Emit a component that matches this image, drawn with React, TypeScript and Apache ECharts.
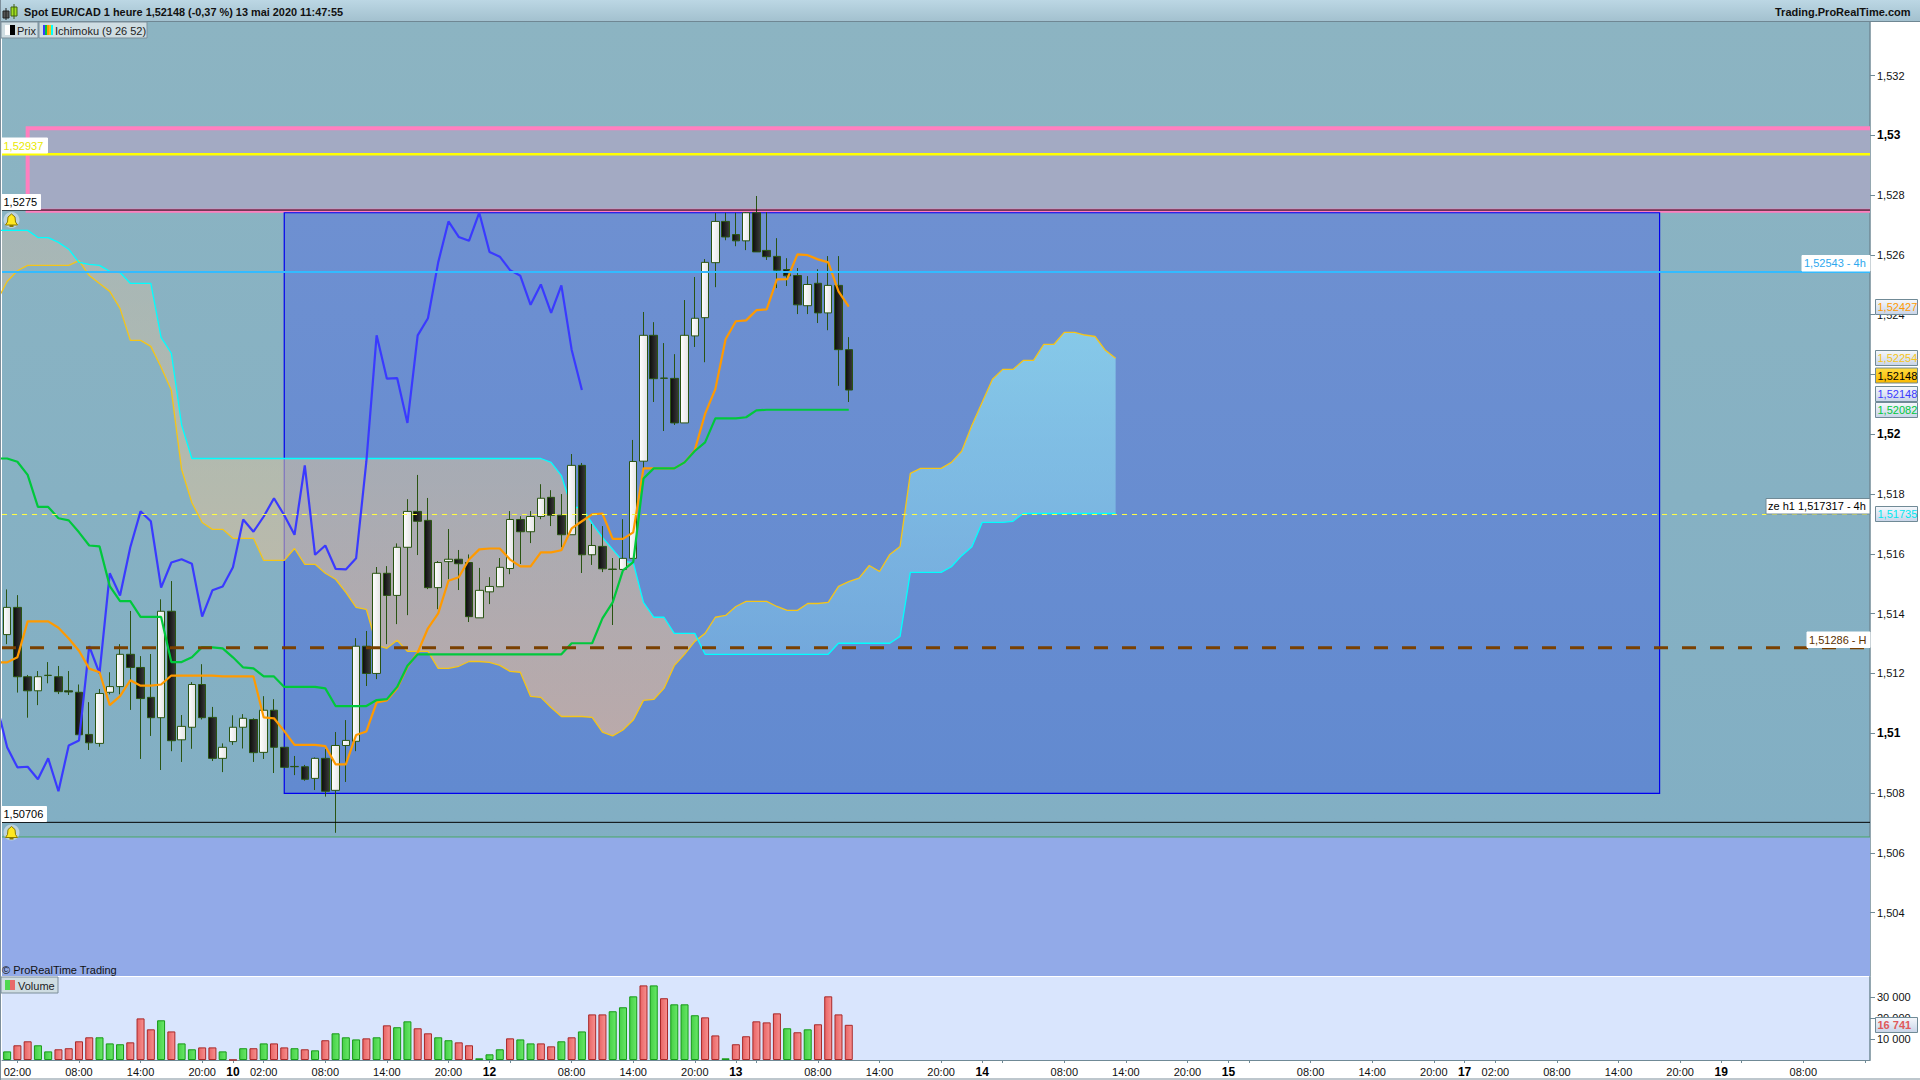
import React, { useEffect, useRef } from "react";
import * as echarts from "echarts";

// prices are stored in 1/100000 units; slot 0 is the hour just left of the visible window
const opens = [151330,151421,151189,151142,151193,151189,151142,151137,150996,150966,151137,151156,151264,151220,151120,151052,151408,150978,151020,151163,151053,150916,150972,151020,151046,150936,151077,150953,150889,150888,150849,150916,150809,150959,150973,151291,151200,151535,151461,151622,151742,151712,151487,151574,151582,151571,151386,151473,151490,151551,151715,151674,151725,151789,151729,151664,151896,151597,151625,151549,151548,151585,151910,152331,152187,152187,152038,152329,152390,152574,152712,152668,152647,152741,152615,152595,152551,152531,152430,152505,152406,152498,152283];
const closes = [151421,151189,151142,151189,151194,151139,151138,150995,150968,151133,151156,151264,151220,151116,151052,151408,150975,151023,151163,151052,150916,150953,151020,151050,150935,151077,150953,150886,150888,150846,150916,150806,150959,150976,151291,151200,151535,151461,151622,151742,151709,151487,151571,151582,151567,151390,151478,151491,151555,151715,151674,151725,151786,151729,151664,151896,151597,151628,151550,151548,151585,151909,152331,152186,152188,152038,152331,152388,152575,152712,152660,152647,152741,152610,152594,152549,152530,152433,152501,152406,152498,152283,152148];
const lows = [151298,151136,151052,151094,151167,151131,151128,150995,150944,150955,151130,151130,151078,150914,150991,150877,150940,150904,150948,151046,150907,150870,150961,150949,150904,150914,150867,150883,150860,150841,150810,150788,150667,150837,150940,151158,151181,151298,151365,151395,151596,151482,151415,151515,151479,151372,151386,151432,151490,151532,151566,151636,151716,151693,151622,151664,151536,151563,151539,151362,151548,151585,151887,152108,152011,152031,152038,152292,152241,152492,152649,152629,152616,152610,152583,152489,152496,152402,152402,152372,152348,152162,152108];
const highs = [151481,151462,151195,151208,151238,151225,151208,151163,151104,151148,151204,151298,151409,151258,151265,151448,151509,151061,151171,151231,151088,150966,151060,151064,151050,151124,151114,150953,150924,150894,150919,150947,151004,151044,151318,151342,151556,151559,151635,151783,151864,151787,151576,151683,151613,151598,151553,151522,151586,151743,151726,151743,151833,151813,151800,151934,151904,151700,151693,151586,151716,151981,152409,152375,152305,152268,152449,152526,152586,152740,152741,152741,152743,152797,152743,152656,152589,152556,152529,152552,152596,152596,152325];

const tenkan = [151237,151237,151254,151374,151374,151374,151353,151317,151276,151216,151204,151094,151124,151177,151159,151159,151163,151193,151193,151193,151193,151193,151190,151190,151190,151190,151053,151050,151007,150961,150961,150961,150957,150896,150896,150994,151006,151103,151110,151150,151222,151270,151351,151401,151510,151522,151581,151615,151618,151618,151581,151558,151558,151605,151605,151612,151685,151709,151732,151735,151650,151650,151672,151886,151886,151886,151886,151906,151947,152068,152151,152318,152378,152381,152415,152418,152518,152519,152602,152599,152585,152575,152478,152427];
const kijun = [151919,151919,151908,151864,151757,151757,151719,151712,151672,151628,151625,151492,151442,151442,151389,151389,151389,151238,151238,151254,151288,151287,151284,151254,151220,151217,151190,151190,151155,151155,151155,151155,151150,151091,151091,151091,151091,151111,151114,151155,151226,151264,151264,151264,151264,151264,151264,151264,151264,151264,151264,151264,151264,151264,151264,151264,151301,151301,151301,151384,151438,151545,151572,151852,151886,151886,151886,151906,151944,151973,152053,152053,152053,152057,152080,152082,152082,152082,152082,152082,152082,152082,152082,152082];
const chikou = [151093,150953,150886,150888,150846,150916,150806,150959,150976,151291,151200,151535,151461,151622,151742,151709,151487,151571,151582,151567,151390,151478,151491,151555,151715,151674,151725,151786,151729,151664,151896,151597,151628,151550,151548,151585,151909,152331,152186,152188,152038,152331,152388,152575,152712,152660,152647,152741,152610,152594,152549,152530,152433,152501,152406,152498,152283,152148];
const spanCyan = [152682,152682,152682,152682,152658,152658,152642,152619,152575,152568,152565,152545,152541,152505,152505,152505,152324,152271,152031,151919,151919,151919,151919,151919,151919,151919,151919,151919,151919,151919,151919,151919,151919,151919,151919,151919,151919,151919,151919,151919,151919,151919,151919,151919,151919,151919,151919,151919,151919,151919,151919,151919,151919,151919,151906,151862,151755,151755,151702,151655,151615,151575,151571,151438,151388,151388,151334,151334,151334,151264,151264,151264,151264,151264,151264,151264,151264,151264,151264,151264,151264,151264,151301,151301,151301,151301,151301,151301,151324,151538,151538,151538,151538,151557,151594,151624,151705,151705,151705,151709,151735,151735,151735,151735,151735,151735,151735,151735,151735,151735];
const spanGold = [152446,152511,152547,152565,152565,152565,152565,152565,152581,152531,152504,152478,152421,152314,152314,152294,152224,152147,151882,151771,151705,151682,151682,151652,151652,151652,151578,151578,151578,151618,151565,151565,151535,151515,151471,151421,151414,151294,151284,151311,151274,151274,151274,151217,151217,151224,151240,151240,151237,151227,151207,151204,151123,151120,151086,151056,151056,151056,151053,151004,150991,151011,151044,151110,151113,151150,151226,151264,151307,151334,151388,151394,151424,151441,151441,151441,151424,151411,151411,151434,151434,151438,151491,151507,151519,151561,151541,151598,151625,151869,151886,151886,151886,151906,151943,152030,152107,152184,152217,152217,152247,152247,152301,152301,152341,152341,152332,152327,152281,152254];

const volumes = [4100,7000,8900,7000,4100,5100,5600,8900,10800,10800,7900,7500,8400,19800,14600,18900,13600,7900,5100,6000,6000,4100,100,5600,5600,7900,7900,6000,5600,5100,4600,9400,12700,10800,9800,10300,10800,16500,15600,18400,15100,12700,10800,9400,8400,7000,800,2700,5100,10300,9800,7900,7900,6500,8900,10800,13600,21700,21700,23200,25100,30300,35500,35500,29400,26500,26500,21300,20300,11700,800,7500,11300,18400,17900,22200,15100,13200,14600,17000,30300,21700,16741];
const volumeDir = "GRRGGRRRRGGGRRRGRGGRRGRGRGRRGRGRGGGRGRGGRRGGRRGGGRGGRRGRGRRGGGRGRGGGRRGRRRRRGRGRR".split("");

const sessions: [number, number, number][] = [[8,0,22],[10,23,23],[11,0,23],[12,0,23],[13,0,23],[14,0,23],[15,0,22],[17,23,23],[18,0,23],[19,0,14]];
const priceTicks = [1.504,1.506,1.508,1.51,1.512,1.514,1.516,1.518,1.52,1.522,1.524,1.526,1.528,1.53,1.532];
const volumeTicks = [10000,20000,30000];

// rectangles drawn on the price chart: [first slot, last slot, top price, bottom price]
const floorZone = [null, null, 1.50653, 1.5];
const pinkZone = [3, null, 1.53024, 1.52748];
const blueZone = [28, 162, 1.52741, 1.50799];

// horizontal levels
const levelPrices = [1.52937, 1.5275, 1.52543, 1.517317, 1.51286, 1.50702];

const price = (v: number) => v / 100000;
const FONT = '"Liberation Sans", Arial, sans-serif';

const categories: string[] = [];
sessions.forEach(([d, a, b]) => { for (let h = a; h <= b; h++) categories.push(d + "|" + h); });
const parts = categories.map((c) => c.split("|").map(Number));
const dayLabel = (i: number) => {
  if (i <= 0 || parts[i][0] === parts[i - 1][0]) return "";
  const prevDay = parts[i - 1][0];
  return parts.filter((p) => p[0] === prevDay).length === 1 ? "" : String(parts[i][0]);
};
const hh = (h: number) => (h < 10 ? "0" : "") + h + ":00";
const timeLabel = (i: number) => {
  if (i === categories.length - 1) return "";
  const h = parts[i][1];
  if (dayLabel(i)) return "{d|" + parts[i][0] + "}";
  if (h === 8 || h === 14 || h === 20) return hh(h);
  if (h === 2 && !dayLabel(i - 2)) return hh(h);
  return "";
};
const hasTick = (i: number) => !!dayLabel(i) || [2, 8, 14, 20].includes(parts[i][1]);

const grad = (stops: [number, string][], x = 0, y = 1) =>
  new echarts.graphic.LinearGradient(0, 0, x, y, stops.map(([offset, color]) => ({ offset, color })));

const zoneStyles: any[] = [
  { fill: "#92aae8", stroke: "#4aa864", lineWidth: 1 },
  { fill: "#a3aac3", stroke: "#ff7fbf", lineWidth: 4 },
  { fill: grad([[0, "#6e90d1"], [1, "#628ad0"]]), stroke: "#0000ee", lineWidth: 1.2 },
];
const levelStyles: any[] = [
  { stroke: "#ffff00", lineWidth: 2.5 },
  { stroke: "#000000", lineWidth: 1 },
  { stroke: "#33bbff", lineWidth: 2 },
  { stroke: "#ffff40", lineWidth: 1, lineDash: [5, 5] },
  { stroke: "#7a4000", lineWidth: 3, lineDash: [14, 14] },
  { stroke: "#000000", lineWidth: 1 },
];

const tag = (x: number, y: number, w: number, h: number, text: string, color: string, fill: any, stroke: string, extra: any = {}) => [
  { type: "rect", z: 100, shape: { x, y, width: w, height: h }, style: { fill, stroke, lineWidth: 1 } },
  { type: "text", z: 101, x: x + 2, y: y + h / 2, style: { text, fill: color, font: (extra.bold ? "bold " : "") + "11px " + FONT, textVerticalAlign: "middle", textBaseline: "middle" } },
];
const axisTag = (y: number, text: string, color: string, bold = false, fill?: any) =>
  tag(1875.5, y - 7.5, 42, 15, text, color, fill || grad([[0, "#f6f8fc"], [1, "#c8d4e8"]]), "#708a96", { bold });
const bell = (cx: number, cy: number) => [
  { type: "circle", z: 100, shape: { cx, cy, r: 8 }, style: { fill: "#bcd2de" } },
  { type: "polygon", z: 101, shape: { points: [[cx - 6, cy + 5], [cx - 4, cy + 2], [cx - 3.5, cy - 3], [cx, cy - 6], [cx + 3.5, cy - 3], [cx + 4, cy + 2], [cx + 6, cy + 5]] }, style: { fill: "#ffe820", stroke: "#8a7a00", lineWidth: 1 } },
  { type: "rect", z: 101, shape: { x: cx - 2, y: cy + 5, width: 4, height: 2 }, style: { fill: "#8a7a00" } },
];

function buildOption() {
  const cloudItem = (params: any, api: any) => {
    const pts = spanCyan.map((v, i) => {
      const t = api.coord([i, price(spanGold[i])]);
      const b = api.coord([i, price(v)]);
      return { x: t[0], g: t[1], c: b[1] };
    });
    const bearFill = new echarts.graphic.LinearGradient(0, 230, 0, 735, [
      { offset: 0, color: "rgba(185,185,175,0.6)" },
      { offset: 0.5, color: "rgba(210,192,160,0.6)" },
      { offset: 1, color: "rgba(243,190,145,0.6)" },
    ], true);
    const bullFill = new echarts.graphic.LinearGradient(0, 330, 0, 650, [
      { offset: 0, color: "rgba(152,240,248,0.6)" },
      { offset: 1, color: "rgba(125,188,228,0.6)" },
    ], true);
    const runs: any[] = [];
    let cur: any[] = [];
    let sign = 0;
    const flush = () => {
      if (cur.length > 1) {
        const points = cur.map((p) => [p.x, p.g]).concat(cur.slice().reverse().map((p) => [p.x, p.c]));
        runs.push({ type: "polygon", shape: { points }, style: { fill: sign > 0 ? bullFill : bearFill, stroke: "none" } });
      }
    };
    pts.forEach((p, i) => {
      const s = p.g < p.c ? 1 : p.g > p.c ? -1 : sign;
      if (i > 0 && s !== sign && sign !== 0) {
        const q = pts[i - 1];
        const d0 = q.g - q.c;
        const d1 = p.g - p.c;
        const t = d0 / (d0 - d1);
        const m = { x: q.x + (p.x - q.x) * t, g: q.g + (p.g - q.g) * t, c: q.g + (p.g - q.g) * t };
        cur.push(m);
        flush();
        cur = [m];
      }
      sign = s;
      cur.push(p);
    });
    flush();
    return { type: "group", children: runs };
  };

  const zoneItem = (params: any, api: any) => {
    const zones = [floorZone, pinkZone, blueZone];
    const z: any = zones[params.dataIndex];
    const cs = params.coordSys;
    const left = z[0] === null ? cs.x - 4 : api.coord([z[0], z[2]])[0];
    const right = z[1] === null ? cs.x + cs.width + 4 : api.coord([z[1], z[2]])[0];
    const top = api.coord([1, z[2]])[1];
    const bottom = api.coord([1, z[3]])[1];
    return { type: "rect", shape: { x: left, y: top, width: right - left, height: bottom - top }, style: zoneStyles[params.dataIndex] };
  };

  const levelItem = (params: any, api: any) => {
    const cs = params.coordSys;
    const y = api.coord([1, api.value(1)])[1];
    const st = levelStyles[params.dataIndex];
    return { type: "line", shape: { x1: cs.x, y1: y, x2: cs.x + cs.width, y2: y }, style: { ...st, fill: "none" } };
  };

  const lineSeries = (name: string, data: number[], color: string, width: number, z: number) => ({
    type: "line", name, data: data.map((v, i) => [i, price(v)]), showSymbol: false, symbol: "none", silent: true, z, clip: true,
    lineStyle: { color, width }, itemStyle: { color },
    xAxisIndex: 0, yAxisIndex: 0,
  });

  return {
    animation: false,
    backgroundColor: "#ffffff",
    textStyle: { fontFamily: FONT },
    grid: [
      { left: 2, top: 22, width: 1868, height: 954, show: true, borderWidth: 0,
        backgroundColor: grad([[0, "#8cb4c2"], [1, "#80aec4"]]) },
      { left: 2, top: 977, width: 1868, height: 83, show: true, borderWidth: 0, backgroundColor: "#d9e5fd" },
    ],
    xAxis: [
      { type: "category", gridIndex: 0, data: categories, min: 1, boundaryGap: true, axisLine: { show: false }, axisTick: { show: false }, axisLabel: { show: false }, splitLine: { show: false } },
      { type: "category", gridIndex: 1, data: categories, min: 1, boundaryGap: true,
        axisLine: { show: true, lineStyle: { color: "#708a96", width: 1 } },
        axisTick: { show: true, alignWithLabel: true, length: 3, lineStyle: { color: "#708a96" }, interval: (i: number) => hasTick(i) },
        axisLabel: { show: true, interval: (i: number) => !!timeLabel(i), margin: 6, fontSize: 11, color: "#111", fontFamily: FONT,
          formatter: (v: string) => timeLabel(categories.indexOf(v)),
          rich: { d: { fontWeight: "bold", fontSize: 12, color: "#000", fontFamily: FONT } } },
        splitLine: { show: false } },
    ],
    yAxis: [
      { type: "value", gridIndex: 0, position: "right", min: 1.50188, max: 1.53379, scale: true, splitLine: { show: false },
        axisLine: { show: true, lineStyle: { color: "#708a96", width: 1.5 } },
        axisTick: { show: true, length: 5, lineStyle: { color: "#708a96" }, customValues: priceTicks },
        axisLabel: { show: true, margin: 7, fontSize: 11, color: "#111", fontFamily: FONT, customValues: priceTicks,
          formatter: (v: number) => {
            const s = String(Number(v.toFixed(3))).replace(".", ",");
            return Math.round(v * 1000) % 10 === 0 ? "{b|" + s + "}" : s;
          },
          rich: { b: { fontWeight: "bold", fontSize: 12, color: "#000", fontFamily: FONT } } } },
      { type: "value", gridIndex: 1, position: "right", min: 0, max: 39500, splitLine: { show: false },
        axisLine: { show: true, lineStyle: { color: "#708a96", width: 1.5 } },
        axisTick: { show: true, length: 5, lineStyle: { color: "#708a96" }, customValues: volumeTicks },
        axisLabel: { show: true, margin: 7, fontSize: 11, color: "#111", fontFamily: FONT, customValues: volumeTicks,
          formatter: (v: number) => v / 1000 + " 000" } },
    ],
    series: [
      { type: "custom", name: "zones", xAxisIndex: 0, yAxisIndex: 0, z: 1, silent: true, clip: true, renderItem: zoneItem,
        data: [[1, 1.5], [1, 1.5], [1, 1.5]], encode: { x: 0, y: 1 } },
      { type: "custom", name: "cloud", xAxisIndex: 0, yAxisIndex: 0, z: 2, silent: true, clip: true, renderItem: cloudItem,
        data: [[1, 1.52]], encode: { x: 0, y: 1 } },
      lineSeries("Senkou A", spanGold, "#f5c518", 1.3, 3),
      lineSeries("Senkou B", spanCyan, "#00ffff", 1.3, 3),
      { type: "candlestick", name: "Prix", xAxisIndex: 0, yAxisIndex: 0, z: 4, silent: true, barWidth: 8,
        itemStyle: {
          color: grad([[0, "#ffffff"], [1, "#e4e4e4"]], 1, 0),
          color0: grad([[0, "#0c0c0c"], [1, "#3a3a3a"]], 1, 0),
          borderColor: "#2a5412", borderColor0: "#2a5412", borderWidth: 1,
        },
        data: [["-", "-", "-", "-"] as any[]].concat(opens.map((o, i) => [price(o), price(closes[i]), price(lows[i]), price(highs[i])])) },
      lineSeries("Chikou", chikou, "#3a3aff", 2.2, 5),
      lineSeries("Tenkan", tenkan, "#ff9a00", 2.2, 5),
      lineSeries("Kijun", kijun, "#00c83c", 2.2, 5),
      { type: "custom", name: "levels", xAxisIndex: 0, yAxisIndex: 0, z: 6, silent: true, clip: true, renderItem: levelItem,
        data: levelPrices.map((p) => [1, p]), encode: { x: 0, y: 1 } },
      { type: "bar", name: "Volume", xAxisIndex: 1, yAxisIndex: 1, barWidth: 8, silent: true,
        data: [{ value: "-" } as any].concat(volumes.map((v, i) => ({
          value: v,
          itemStyle: volumeDir[i] === "G"
            ? { color: grad([[0, "#46cf46"], [1, "#68e868"]], 1, 0), borderColor: "#169a16", borderWidth: 1 }
            : { color: grad([[0, "#e86464"], [1, "#f89090"]], 1, 0), borderColor: "#a82828", borderWidth: 1 },
        }))) },
    ],
    graphic: [
      // title bar
      { type: "rect", z: 90, shape: { x: 0, y: 0, width: 1920, height: 21 }, style: { fill: grad([[0, "#bcd7e4"], [1, "#a3c1cf"]]) } },
      { type: "line", z: 90, shape: { x1: 0, y1: 21.5, x2: 1920, y2: 21.5 }, style: { stroke: "#6f8793", lineWidth: 1 } },
      { type: "line", z: 90, shape: { x1: 0.5, y1: 0, x2: 0.5, y2: 1080 }, style: { stroke: "#7d8f9b", lineWidth: 1 } },
      { type: "line", z: 90, shape: { x1: 0, y1: 1079, x2: 1920, y2: 1079 }, style: { stroke: "#7d8f9b", lineWidth: 1 } },
      { type: "rect", z: 91, shape: { x: 3, y: 11, width: 6, height: 7 }, style: { fill: "#555", stroke: "#222", lineWidth: 1 } },
      { type: "line", z: 91, shape: { x1: 6, y1: 8, x2: 6, y2: 20 }, style: { stroke: "#222", lineWidth: 1 } },
      { type: "rect", z: 91, shape: { x: 11, y: 7, width: 6, height: 9 }, style: { fill: "#a0e020", stroke: "#406010", lineWidth: 1 } },
      { type: "line", z: 91, shape: { x1: 14, y1: 4, x2: 14, y2: 19 }, style: { stroke: "#406010", lineWidth: 1 } },
      { type: "text", z: 92, x: 24, y: 12, style: { text: "Spot EUR/CAD 1 heure 1,52148 (-0,37 %) 13 mai 2020 11:47:55", fill: "#111", font: "bold 10.9px " + FONT, textVerticalAlign: "middle", textBaseline: "middle" } },
      { type: "text", z: 92, x: 1775, y: 12, style: { text: "Trading.ProRealTime.com", fill: "#111", font: "bold 11px " + FONT, textVerticalAlign: "middle", textBaseline: "middle" } },
      // indicator boxes
      { type: "rect", z: 95, shape: { x: 1, y: 22, width: 37, height: 16 }, style: { fill: "#cfdde2", stroke: "#7d8f9b", lineWidth: 1 } },
      { type: "rect", z: 96, shape: { x: 5, y: 25, width: 5, height: 10 }, style: { fill: "#fff" } },
      { type: "rect", z: 96, shape: { x: 10, y: 25, width: 5, height: 10 }, style: { fill: "#000" } },
      { type: "text", z: 96, x: 17, y: 30.5, style: { text: "Prix", fill: "#222", font: "11px " + FONT, textVerticalAlign: "middle", textBaseline: "middle" } },
      { type: "rect", z: 95, shape: { x: 39, y: 22, width: 108, height: 16 }, style: { fill: "#cfdde2", stroke: "#7d8f9b", lineWidth: 1 } },
      ...["#3a3aff", "#00c83c", "#ff9a00", "#f5c518", "#00ffff"].map((fill, i) => ({ type: "rect", z: 96, shape: { x: 43 + i * 2, y: 25, width: 2, height: 10 }, style: { fill } })),
      { type: "text", z: 96, x: 55, y: 30.5, style: { text: "Ichimoku (9 26 52)", fill: "#222", font: "11px " + FONT, textVerticalAlign: "middle", textBaseline: "middle" } },
      { type: "rect", z: 95, shape: { x: 1, y: 977, width: 57, height: 16 }, style: { fill: "#cfdde2", stroke: "#7d8f9b", lineWidth: 1 } },
      { type: "rect", z: 96, shape: { x: 5, y: 980, width: 5, height: 10 }, style: { fill: "#4fd84f" } },
      { type: "rect", z: 96, shape: { x: 10, y: 980, width: 5, height: 10 }, style: { fill: "#e86a6a" } },
      { type: "text", z: 96, x: 18, y: 985.5, style: { text: "Volume", fill: "#222", font: "11px " + FONT, textVerticalAlign: "middle", textBaseline: "middle" } },
      { type: "text", z: 96, x: 2, y: 970, style: { text: "© ProRealTime Trading", fill: "#111", font: "11px " + FONT, textVerticalAlign: "middle", textBaseline: "middle" } },
      // level labels on the left
      ...tag(1.5, 138, 46, 15, "1,52937", "#e8e800", "#ffffff", "#ffffff"),
      ...tag(1.5, 194.5, 39, 15, "1,5275", "#000000", "#ffffff", "#ffffff"),
      ...tag(1.5, 806.5, 45, 15, "1,50706", "#000000", "#ffffff", "#ffffff"),
      ...bell(11.5, 220),
      ...bell(11.5, 832.5),
      // level labels on the right
      ...tag(1802, 255.5, 68, 15.5, "1,52543 - 4h", "#2ea8ee", "#ffffff", "#ffffff"),
      ...tag(1766, 498.5, 104, 15.5, "ze h1 1,517317 - 4h", "#000000", "#ffffff", "#708a96"),
      ...tag(1807, 632, 63, 15.5, "1,51286 - H", "#5a3000", "#ffffff", "#ffffff"),
      // last value tags
      ...axisTag(307, "1,52427", "#ff9a00"),
      ...axisTag(358, "1,52254", "#f5c518"),
      ...axisTag(375.5, "1,52148", "#000000", false, grad([[0, "#ffdc40"], [1, "#f8b800"]])),
      ...axisTag(394, "1,52148", "#3a3aff"),
      ...axisTag(410, "1,52082", "#00c83c"),
      ...axisTag(514, "1,51735", "#00e8f0"),
      ...tag(1875.5, 1017.5, 42, 15, "16 741", "#e05a5a", grad([[0, "#f6f8fc"], [1, "#c8d4e8"]]), "#708a96", { bold: true }),
    ],
  };
}

export default function App() {
  const ref = useRef<HTMLDivElement>(null);
  useEffect(() => {
    const chart = echarts.init(ref.current as HTMLDivElement, undefined, { renderer: "svg" });
    chart.setOption(buildOption() as any);
    return () => chart.dispose();
  }, []);
  return <div ref={ref} style={{ position: "fixed", left: 0, top: 0, width: 1920, height: 1080 }} />;
}
